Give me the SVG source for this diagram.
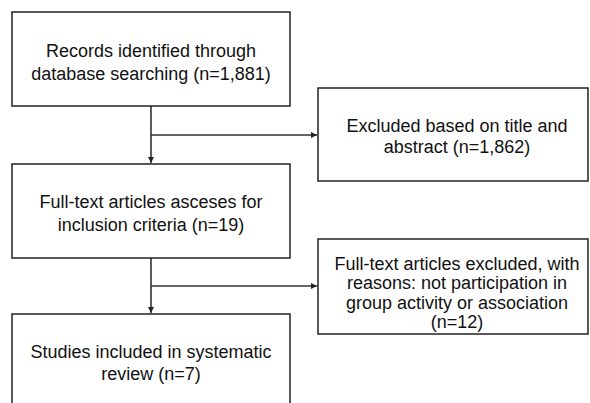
<svg xmlns="http://www.w3.org/2000/svg" width="590" height="403" viewBox="0 0 590 403">
<style>
.box{fill:#fff;stroke:#222;stroke-width:1.5}
.t{font-family:"Liberation Sans",Arial,sans-serif;font-size:18px;fill:#111;text-anchor:middle}
.c{fill:none;stroke:#333;stroke-width:1.6}
</style>
<defs>
<marker id="ah" markerWidth="6" markerHeight="6" refX="6" refY="3" orient="auto" markerUnits="userSpaceOnUse">
<path d="M0,0 L6,3 L0,6 Z" fill="#222"/>
</marker>
</defs>
<rect width="590" height="403" fill="#fff"/>
<g id="connectors">
<path class="c" d="M151,106 V163" marker-end="url(#ah)"/>
<path class="c" d="M151,135 H317" marker-end="url(#ah)"/>
<path class="c" d="M151,258 V313" marker-end="url(#ah)"/>
<path class="c" d="M151,286 H317" marker-end="url(#ah)"/>
</g>
<g id="records">
<rect class="box" x="12" y="12" width="278" height="94"/>
<text class="t" x="151" y="56.5">Records identified through</text>
<text class="t" x="151" y="79.5">database searching (n=1,881)</text>
</g>
<g id="excluded-title">
<rect class="box" x="318" y="88" width="270" height="93"/>
<text class="t" x="457" y="131.5">Excluded based on title and</text>
<text class="t" x="457" y="153">abstract (n=1,862)</text>
</g>
<g id="fulltext">
<rect class="box" x="12" y="164" width="278" height="94"/>
<text class="t" x="151" y="208">Full-text articles asceses for</text>
<text class="t" x="151" y="230.5">inclusion criteria (n=19)</text>
</g>
<g id="excluded-fulltext">
<rect class="box" x="318" y="239" width="270" height="95"/>
<text class="t" x="457" y="269.5">Full-text articles excluded, with</text>
<text class="t" x="457" y="289">reasons: not participation in</text>
<text class="t" x="457" y="308.5">group activity or association</text>
<text class="t" x="457" y="328">(n=12)</text>
</g>
<g id="included">
<rect class="box" x="12" y="314" width="278" height="100"/>
<text class="t" x="151" y="358">Studies included in systematic</text>
<text class="t" x="151" y="380">review (n=7)</text>
</g>
</svg>
